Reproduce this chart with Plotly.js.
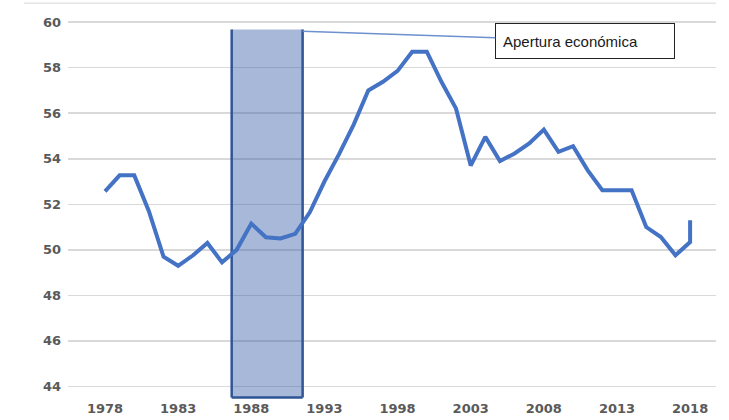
<!DOCTYPE html>
<html>
<head>
<meta charset="utf-8">
<script src="https://cdn.plot.ly/plotly-3.0.1.min.js"></script>
<style>
html,body{margin:0;padding:0;background:#fff;}
#chart{width:729px;height:420px;}
</style>
</head>
<body>
<div id="chart"></div>
<script>
// ---- data ----
const years = [1978,1979,1980,1981,1982,1983,1984,1985,1986,1987,1988,1989,1990,1991,1992,1993,1994,1995,1996,1997,1998,1999,2000,2001,2002,2003,2004,2005,2006,2007,2008,2009,2010,2011,2012,2013,2014,2015,2016,2017,2018,2018];
const values = [52.57,53.27,53.27,51.7,49.7,49.3,49.75,50.3,49.45,50.0,51.15,50.55,50.5,50.7,51.65,53.0,54.2,55.5,57.0,57.38,57.86,58.7,58.7,57.38,56.2,53.7,54.96,53.9,54.23,54.67,55.28,54.3,54.55,53.49,52.62,52.62,52.62,51.0,50.56,49.76,50.34,51.3];
const xTickVals = [1978,1983,1988,1993,1998,2003,2008,2013,2018];
const xTickText = ["1978","1983","1988","1993","1998","2003","2008","2013","2018"];
const yTickVals = [44,46,48,50,52,54,56,58,60];
const periodStart = 1986.66;   // shaded period "Apertura económica"
const periodEnd = 1991.51;
const annotationText = "Apertura económica";

const trace = {
  x: years, y: values, type: 'scatter', mode: 'lines',
  line: {color: '#4472c4', width: 4, shape: 'linear'},
  hoverinfo: 'skip', showlegend: false
};

const tickFont = {family: 'DejaVu Sans, sans-serif', size: 13, color: '#5a5a5a', weight: 'bold'};
const borderLine = {color: '#2f5597', width: 2.5};

const layout = {
  width: 729, height: 420,
  margin: {l: 68, r: 13, t: 13, b: 21, pad: 0},
  paper_bgcolor: '#ffffff', plot_bgcolor: '#ffffff',
  font: {family: 'DejaVu Sans, sans-serif', size: 13, color: '#5a5a5a'},
  showlegend: false,
  xaxis: {
    range: [1975.47, 2019.77], tickmode: 'array', tickvals: xTickVals, ticktext: xTickText,
    showgrid: false, zeroline: false, showline: false, ticks: '',
    tickfont: tickFont, fixedrange: true
  },
  yaxis: {
    range: [43.45, 60.4], tickmode: 'array', tickvals: yTickVals,
    showgrid: true, gridcolor: '#d9d9d9', gridwidth: 1.5,
    zeroline: false, showline: false, ticks: '',
    ticklabelstandoff: 6,
    tickfont: tickFont, fixedrange: true
  },
  shapes: [
    {type: 'rect', xref: 'paper', yref: 'paper', x0: (226-68)/648, x1: (278-68)/648, y0: (399-29)/386, y1: 1.0,
     fillcolor: '#ffffff', line: {width: 0}, layer: 'between'},
    {type: 'rect', xref: 'paper', yref: 'paper', x0: (460-68)/648, x1: (694-68)/648, y0: (399-32)/386, y1: 1.0,
     fillcolor: '#ffffff', line: {width: 0}, layer: 'between'},
    {type: 'rect', xref: 'x', yref: 'y', x0: periodStart, x1: periodEnd, y0: 43.52, y1: 59.68,
     fillcolor: 'rgba(47,85,165,0.42)', line: {width: 0}, layer: 'between'},
    {type: 'line', xref: 'x', yref: 'y', x0: periodStart, x1: periodStart, y0: 43.52, y1: 59.68, line: borderLine, layer: 'between'},
    {type: 'line', xref: 'x', yref: 'y', x0: periodEnd, x1: periodEnd, y0: 43.52, y1: 59.68, line: borderLine, layer: 'between'},
    {type: 'line', xref: 'x', yref: 'y', x0: periodStart, x1: periodEnd, y0: 43.52, y1: 43.52, line: borderLine, layer: 'between'},
    {type: 'line', xref: 'paper', yref: 'paper', x0: -0.068, x1: 1.0, y0: 1.025, y1: 1.025,
     line: {color: '#e4e4e4', width: 1.5}}
  ],
  annotations: [
    {x: periodEnd, y: 59.6, xref: 'x', yref: 'y',
     ax: 2010.8, ay: 59.18, axref: 'x', ayref: 'y',
     text: annotationText, showarrow: true, arrowhead: 0, arrowwidth: 1.5, arrowcolor: '#6d90cf',
     standoff: 0, startstandoff: 0,
     font: {family: 'Liberation Sans, Arial, sans-serif', size: 15, color: '#1a1a1a'},
     align: 'left', width: 164, height: 20, borderpad: 7,
     bgcolor: '#ffffff', bordercolor: '#222222', borderwidth: 1}
  ]
};

Plotly.newPlot('chart', [trace], layout, {staticPlot: true, displayModeBar: false});
</script>
</body>
</html>
